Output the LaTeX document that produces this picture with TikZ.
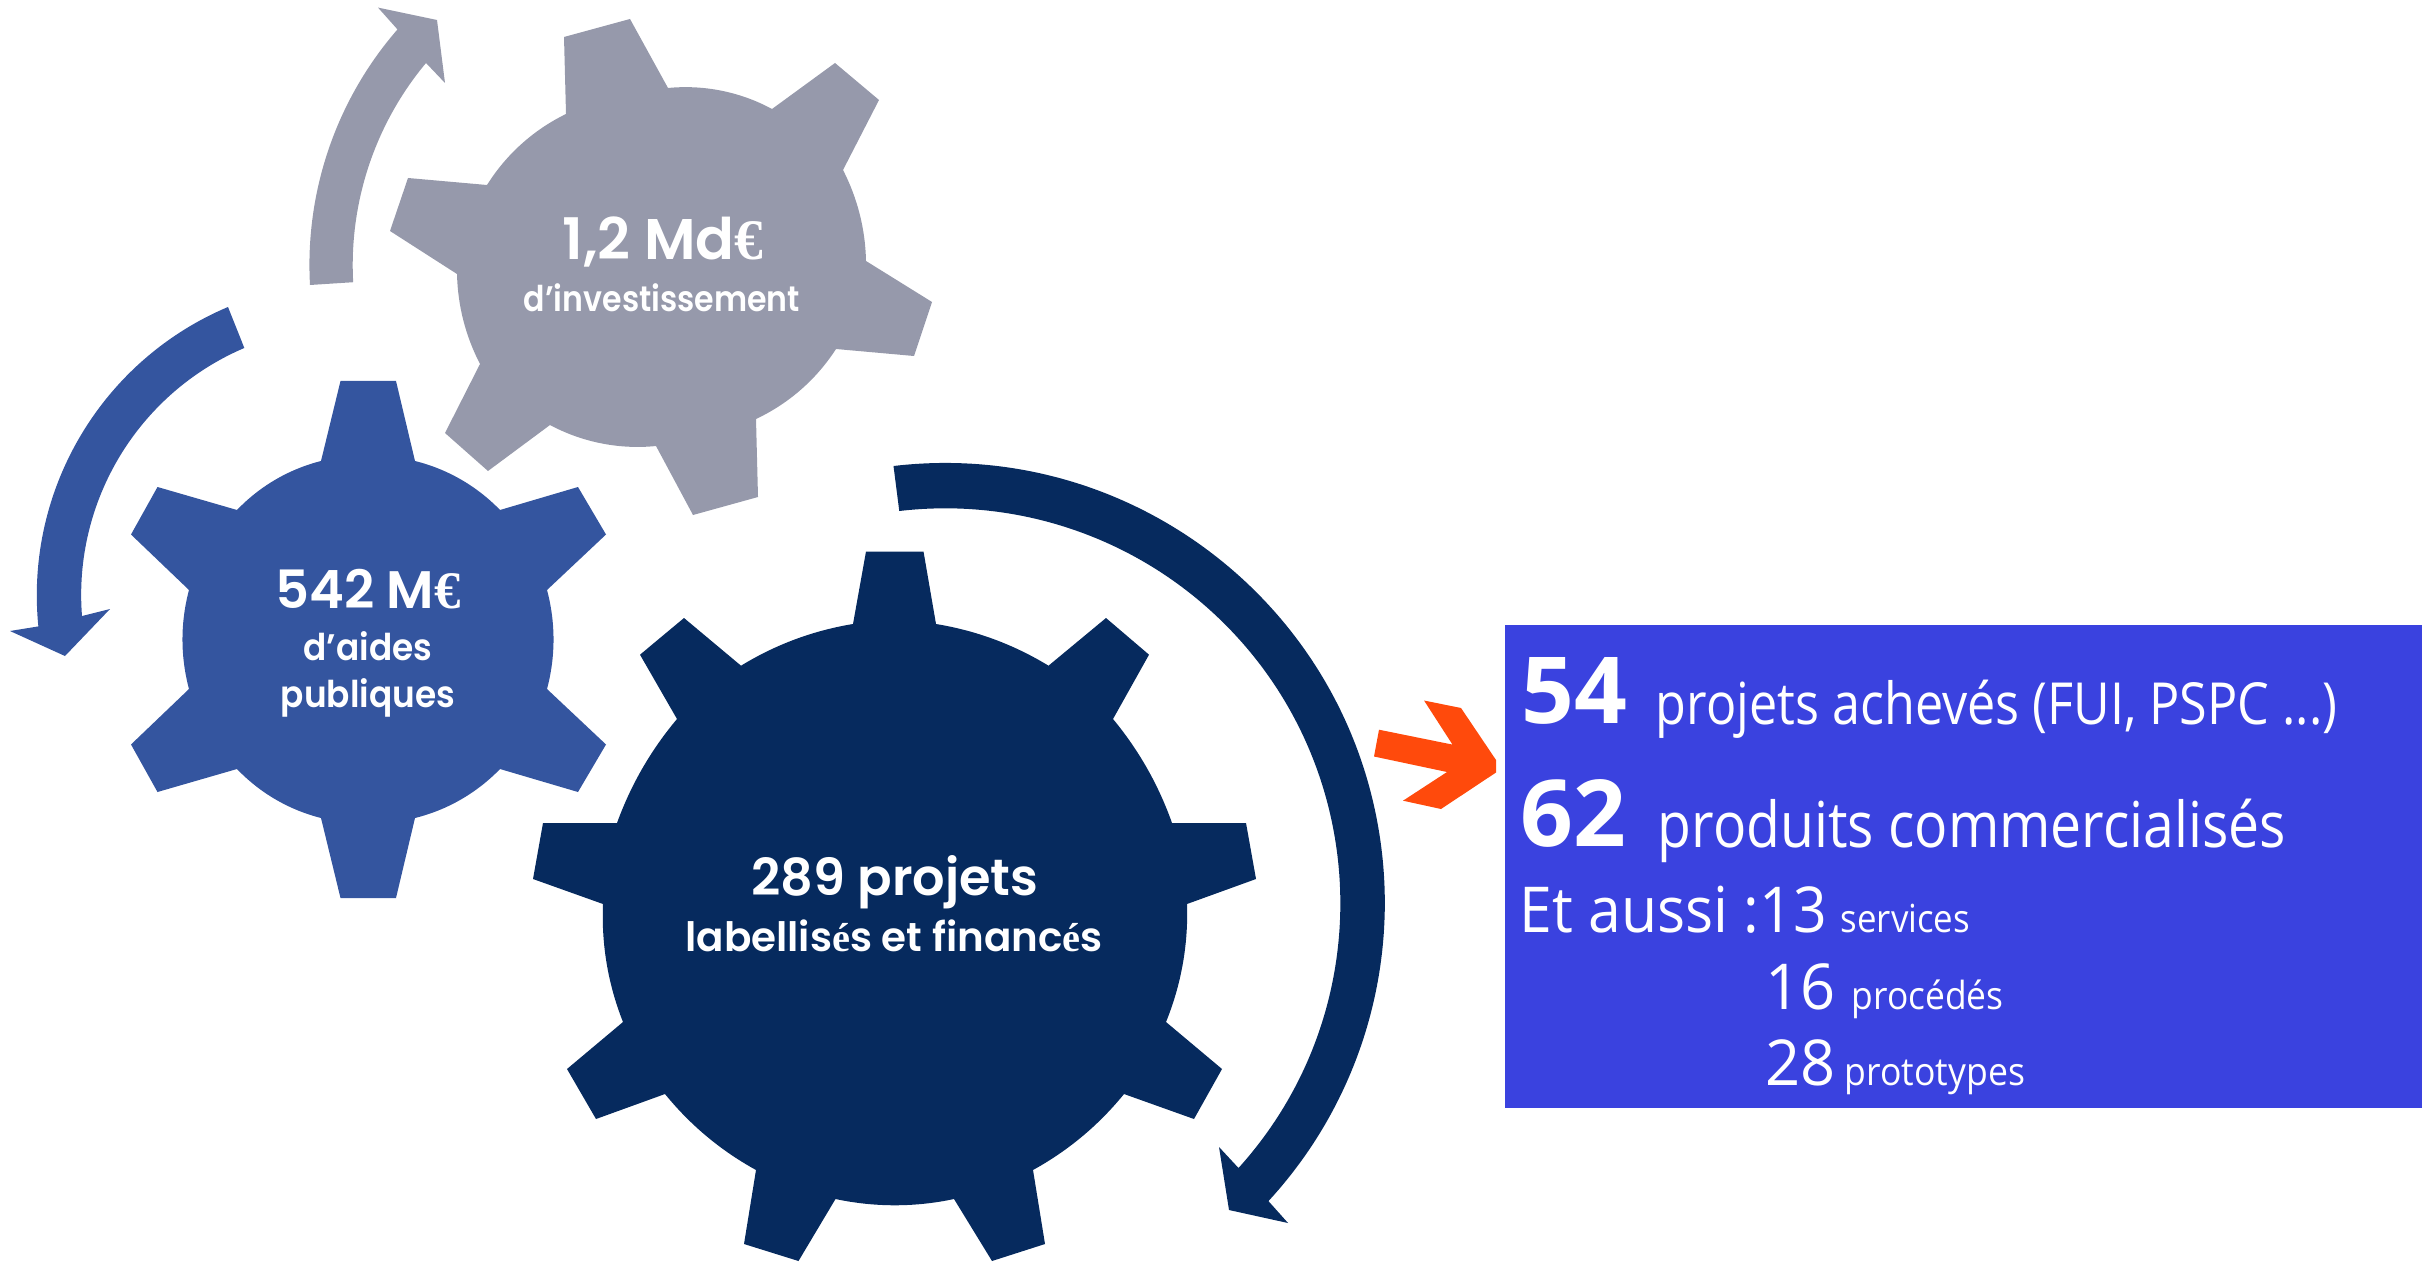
\documentclass[tikz,border=0pt]{standalone}
\usepackage{fontspec}
\setmainfont{Open Sans}
\newfontfamily\gearfont[BoldFont={Poppins SemiBold}]{Poppins}
\newfontfamily\gserif{Liberation Serif}
\definecolor{cgray}{HTML}{9699AB}
\definecolor{cblue}{HTML}{34559F}
\definecolor{cnavy}{HTML}{062A5E}
\definecolor{cbox}{HTML}{3A42DF}
\definecolor{corange}{HTML}{FF4A0C}
\newcommand{\gs}[1]{{\gserif\bfseries #1}}
\newcommand{\fs}[1]{\fontsize{#1}{#1}\selectfont}
\newcommand{\st}[1]{\addfontfeature{FakeStretch=#1}}
\tikzset{
  lab/.style={inner sep=0pt,anchor=base,text=white,font=\gearfont\bfseries},
  biglab/.style={lab,font=\gearfont\bfseries\fs{#1}},
  smalllab/.style={lab,font=\gearfont\bfseries\fs{#1}},
  boxt/.style={inner sep=0pt,anchor=base west,text=white},
}
\begin{document}
\begin{tikzpicture}[x=0.01cm,y=-0.01cm,looseness=0.87]
\path[use as bounding box] (0,0) rectangle (2422,1261);
% gray gear
\fill[cgray] (564,37) -- (630,19) -- (668,88) to[bend left=17] (772,109) -- (835,63) -- (879,100) -- (843,170) to[bend left=13] (866,261) -- (932,302) -- (914,356) -- (836,349) to[bend left=16] (756,419) -- (758,497) -- (693,515) -- (656,446) to[bend left=17] (550,425) -- (488,471) -- (445,433) -- (480,364) to[bend left=13] (457,274) -- (390,231) -- (408,178) -- (487,185) to[bend left=16] (566,114) -- cycle;
% blue gear
\fill[cblue] (340.5,381) -- (396,381) -- (415,461) to[bend left=16] (500,510) -- (578,487) -- (606,534.5) -- (547,590) to[bend left=15] (547,689) -- (606,744.5) -- (578,792) -- (500,769) to[bend left=16] (415,818) -- (396,898) -- (340.5,898) -- (321,818) to[bend left=16] (237,769) -- (157.5,792) -- (131,744.5) -- (189,689) to[bend left=15] (189,590) -- (131,534.5) -- (157.5,487) -- (237,510) to[bend left=16] (321,461) -- cycle;
% navy gear
\fill[cnavy] (866,551.5) -- (923.5,551.5) -- (936,624) to[bend left=11] (1048.5,665.7) -- (1106,618) -- (1149,654.7) -- (1113,719) to[bend left=10] (1172,823) -- (1246,823) -- (1256,879) -- (1187,904) to[bend left=12] (1166,1022) -- (1222,1069) -- (1194,1119) -- (1124,1094) to[bend left=11] (1033,1170) -- (1045,1244) -- (992,1261) -- (954,1199) to[bend left=12] (835.5,1199) -- (798.5,1261) -- (744,1244) -- (756,1170) to[bend left=11] (665,1094) -- (596,1119) -- (567,1069) -- (623,1022) to[bend left=12] (603,904) -- (533,879) -- (543,823) -- (617,823) to[bend left=10] (677,719) -- (640,654.7) -- (684,618) -- (741,665.7) to[bend left=11] (853,624) -- cycle;
% circular arrows
\fill[cgray] (310,285) arc[start angle=176.8,end angle=221,radius=359] -- (378,7.6) -- (437,20) -- (445,83) -- (426,63) arc[start angle=219.85,end angle=176.9,radius=315.5] -- cycle;
\fill[cblue] (228,307) arc[start angle=-112.9,end angle=-185.7,radius=313] -- (10,631) -- (65,656) -- (110,609) -- (82,616) arc[start angle=-184.5,end angle=-113.1,radius=268.5] -- cycle;
\fill[cnavy] (893.5,466) arc[start angle=-96.7,end angle=42.65,radius=440] -- (1288,1223) -- (1229,1210) -- (1219,1147) -- (1238.5,1168) arc[start angle=42.08,end angle=-96.7,radius=395] -- cycle;
% orange arrow and box
\fill[corange] (1424,700.5) -- (1461,708) -- (1496,760) -- (1496,772.5) -- (1441,809) -- (1403,800.7) -- (1447,772) -- (1374,756.5) -- (1379,729.7) -- (1452.5,744.6) -- cycle;
\fill[cbox] (1504.5,625) rectangle (2422,1107.5);
% gear labels
\node[biglab=16.3] (g1a) at (663,260) {1,2 Md\gs{€}};
\node[smalllab=10.1] (g1b) at (662,311) {\st{.89}d’investissement};
\node[biglab=15] (g2a) at (368,608) {542 M\gs{€}};
\node[smalllab=10.5] (g2b) at (368,660) {\st{.93}d’aides};
\node[smalllab=10.5] (g2c) at (368,707) {\st{.93}publiques};
\node[biglab=14.5] (g3a) at (895,895) {289 projets};
\node[smalllab=11.5] (g3b) at (894,951.5) {labellis\gs{é}s et financ\gs{é}s};
% box text
\node[boxt,font=\bfseries\fs{26.3}] (n54) at (1521,723) {54};
\node[boxt,font=\fs{16.5}] (t54) at (1655,724) {\st{.867}projets achevés (FUI, PSPC ...)};
\node[boxt,font=\bfseries\fs{26.3}] (n62) at (1520,846) {62};
\node[boxt,font=\fs{18}] (t62) at (1657,847) {\st{.873}produits commercialisés};
\node[boxt,font=\fs{18}] (t13) at (1519,932) {\st{.93}Et aussi :13};
\node[boxt,font=\fs{11}] (s13) at (1840,932) {\st{.9}services};
\node[boxt,font=\fs{18}] (n16) at (1765,1009) {\st{.97}16};
\node[boxt,font=\fs{11}] (s16) at (1851,1009) {\st{.915}procédés};
\node[boxt,font=\fs{18}] (n28) at (1765,1085) {\st{.97}28};
\node[boxt,font=\fs{11}] (s28) at (1844,1085) {\st{.92}prototypes};
\end{tikzpicture}
\end{document}
